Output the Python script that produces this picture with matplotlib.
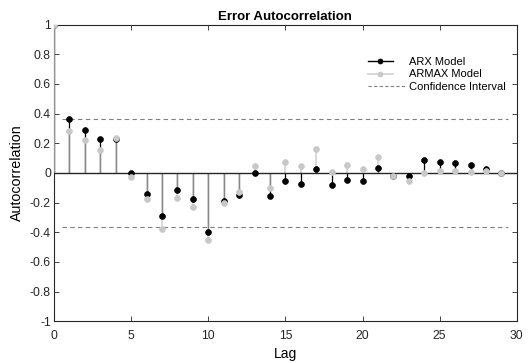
import numpy as np
import matplotlib
matplotlib.use("Agg")
import matplotlib.pyplot as plt
from matplotlib.lines import Line2D
from matplotlib.legend_handler import HandlerLine2D
from matplotlib.ticker import FuncFormatter, MultipleLocator

plt.rcParams['font.family'] = ['Liberation Sans', 'DejaVu Sans']
plt.rcParams['axes.unicode_minus'] = False

# values
lags = np.arange(30)
arx_acf = [1.0, 0.366, 0.29, 0.227, 0.228, 0.002, -0.139, -0.29, -0.114, -0.173,
           -0.40, -0.188, -0.148, 0.0, -0.159, -0.058, -0.072, 0.025, -0.083, -0.045,
           -0.052, 0.034, -0.018, -0.024, 0.09, 0.072, 0.065, 0.054, 0.027, 0.0]
armax_acf = [1.0, 0.285, 0.222, 0.153, 0.238, -0.025, -0.177, -0.375, -0.166, -0.231,
             -0.451, -0.204, -0.132, 0.043, -0.105, 0.072, 0.043, 0.159, 0.009, 0.056,
             0.029, 0.105, -0.02, -0.058, 0.0, 0.016, 0.016, 0.009, 0.011, 0.0]
conf = 0.364

BLACK = '#000000'
GRAY = '#c8c8c8'
DARK = '#262626'


class EndMarkerHandler(HandlerLine2D):
    # MATLAB-like stem legend icon: short line, marker at its end
    def get_xdata(self, legend, xdescent, ydescent, width, height, fontsize):
        x0 = -xdescent
        x1 = x0 + 0.66 * width
        return np.array([x0, x1]), np.array([x1])


fig = plt.figure(figsize=(5.29, 3.63), dpi=100)
ax = fig.add_axes([0.102, 0.115, 0.875, 0.8175])

# stems
ax.vlines(lags, 0, arx_acf, color=BLACK, lw=0.9, zorder=2)
ax.vlines(lags, 0, armax_acf, color=GRAY, lw=1.3, alpha=0.75, zorder=3)
ax.axhline(0, color=DARK, lw=1.0, zorder=4)
ax.plot(lags, arx_acf, 'o', color=BLACK, ms=4.2, mew=0.5, zorder=5)
ax.plot(lags, armax_acf, 'o', color=GRAY, ms=4.2, mew=0.5, zorder=6)

# confidence bounds
x_ci = [lags[0] + 0.5, lags[-1] + 0.4]
ax.plot(x_ci, [conf, conf], color='#808080', lw=0.8, ls=(0, (4, 3)), zorder=1)
ax.plot(x_ci, [-conf, -conf], color='#808080', lw=0.8, ls=(0, (4, 3)), zorder=1)

ax.set_xlim(0, 30)
ax.set_ylim(-1, 1)
ax.xaxis.set_major_locator(MultipleLocator(5))
ax.yaxis.set_major_locator(MultipleLocator(0.2))
ax.yaxis.set_major_formatter(FuncFormatter(lambda v, p: '%g' % round(v, 2)))
ax.tick_params(direction='in', length=3.5, width=0.6, top=True, right=True,
               labelsize=8.8, colors=DARK)
ax.tick_params(axis='x', pad=6)
ax.tick_params(axis='y', pad=2.2)
for s in ax.spines.values():
    s.set_color(DARK)
    s.set_linewidth(0.8)

ax.set_title('Error Autocorrelation', fontsize=9.5, fontweight='bold', pad=3)
ax.set_xlabel('Lag', fontsize=10, labelpad=4)
ax.set_ylabel('Autocorrelation', fontsize=10.3, labelpad=4)

handles = [
    Line2D([], [], color=BLACK, lw=1.0, marker='o', ms=3.6, mew=0.5),
    Line2D([], [], color='#d4d4d4', lw=1.3, marker='o', ms=3.6, mew=0.5, mfc=GRAY, mec=GRAY),
    Line2D([], [], color='#808080', lw=0.8, ls=(0, (3, 2))),
]
labels = ['ARX Model', 'ARMAX Model', 'Confidence Interval']
hm = {handles[0]: EndMarkerHandler(), handles[1]: EndMarkerHandler()}
ax.legend(handles, labels, handler_map=hm, loc='upper right',
          bbox_to_anchor=(0.983, 0.903), frameon=False, fontsize=8,
          handlelength=3.4, handletextpad=0.3, labelspacing=0.25,
          borderaxespad=0, borderpad=0.3)

fig.savefig('out.png', dpi=100)
